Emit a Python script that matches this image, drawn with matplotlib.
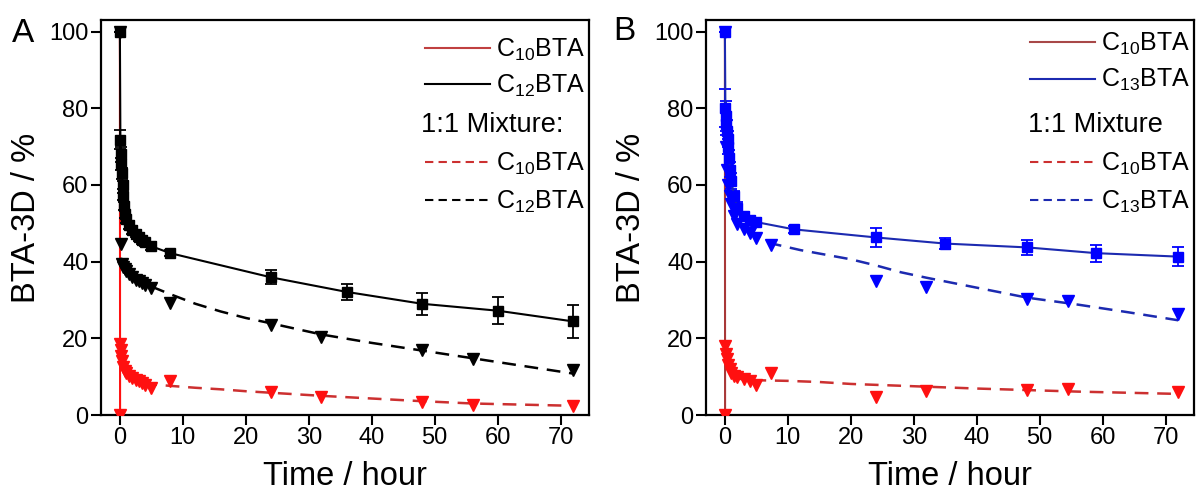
import numpy as np
import matplotlib
matplotlib.use("Agg")
import matplotlib.pyplot as plt
from matplotlib.lines import Line2D

plt.rcParams['font.family'] = ['Liberation Sans', 'DejaVu Sans']
plt.rcParams['mathtext.fontset'] = 'custom'
plt.rcParams['mathtext.rm'] = 'Liberation Sans'
plt.rcParams['mathtext.it'] = 'Liberation Sans:italic'
plt.rcParams['mathtext.bf'] = 'Liberation Sans:bold'

# ---- panel A data ----
tA_c10 = [0, 0.03]
vA_c10 = [100, 0]

tA_c12 = [0, 0.08, 0.17, 0.25, 0.33, 0.42, 0.5, 0.67, 0.83, 1.0, 1.5, 2, 2.5, 3, 3.5, 4, 5, 8, 24, 36, 48, 60, 72]
vA_c12 = [100, 71.8, 68, 65.5, 63, 60, 57, 54.5, 52.5, 51, 49.5, 48.3, 47.3, 46.5, 45.7, 45, 44, 42.2, 35.9, 32.1, 29.0, 27.2, 24.4]
eA_c12 = [0, 2.5, 2, 1.5, 1.5, 1, 1, 1, 1, 1, 1, 1, 1, 1, 1, 1, 1, 0.8, 1.8, 2.0, 2.9, 3.5, 4.4]

tA_mix12 = [0, 0.17, 0.33, 0.5, 0.75, 1.0, 1.5, 2, 2.5, 3, 3.5, 4, 5, 8, 24, 32, 48, 56, 72]
vA_mix12 = [100, 44.5, 39.3, 38.5, 38, 37.5, 36.7, 36, 35.3, 34.9, 34.3, 34, 33, 29.2, 23.5, 20.4, 17.0, 14.6, 11.7]
tA_fit12 = [0.17, 0.5, 1, 2, 3, 5, 8, 12, 16, 20, 24, 32, 40, 48, 56, 64, 72]
vA_fit12 = [41, 38.5, 37.2, 35.8, 34.8, 33.5, 31.5, 29, 27, 25.3, 23.9, 21, 18.8, 16.8, 14.8, 12.8, 10.8]

tA_mix10 = [0, 0.08, 0.17, 0.25, 0.33, 0.5, 0.75, 1, 1.5, 2, 2.5, 3, 3.5, 4, 5, 8, 24, 32, 48, 56, 72]
vA_mix10 = [0, 18.5, 17, 15.5, 14, 12.5, 11.5, 11, 10.2, 9.6, 9.2, 8.8, 8.3, 7.8, 7.0, 8.8, 5.9, 4.7, 3.4, 2.7, 2.4]
tA_fit10 = [0.08, 0.3, 0.6, 1, 2, 3, 5, 8, 12, 16, 20, 24, 32, 40, 48, 56, 64, 72]
vA_fit10 = [17, 13.5, 11.5, 10.5, 9.5, 8.8, 8.0, 7.6, 7.1, 6.7, 6.2, 5.8, 5.0, 4.3, 3.6, 3.0, 2.7, 2.4]

# ---- panel B data ----
tB_c10 = [0, 0.03]
vB_c10 = [100, 0]

tB_c13 = [0, 0.08, 0.17, 0.25, 0.33, 0.42, 0.5, 0.67, 0.83, 1, 1.5, 2, 3, 4, 5, 11, 24, 35, 48, 59, 72]
vB_c13 = [100, 80, 78, 76, 74, 72, 70, 67, 64, 61, 57, 54, 52, 50.8, 50.3, 48.4, 46.3, 44.7, 43.7, 42.2, 41.3]
eB_c13 = [0, 5, 4, 3, 3, 2, 2, 2, 2, 2, 1.5, 1.5, 1, 1, 1, 1, 2.5, 1.5, 1.9, 2.2, 2.4]

tB_mix13 = [0, 0.17, 0.33, 0.5, 0.75, 1, 1.5, 2, 3, 4, 5, 7.3, 24, 32, 48, 54.5, 72]
vB_mix13 = [100, 70, 64, 60, 57, 55, 52, 49.7, 48.5, 47.5, 46.2, 44.2, 35, 33.4, 30.2, 29.6, 26.3]
tB_fit13 = [0.5, 1, 2, 3, 5, 8, 12, 16, 20, 24, 28, 32, 40, 48, 56, 64, 72]
vB_fit13 = [58, 54, 50.5, 48.8, 47, 44.5, 43, 41.8, 40.6, 39, 37.2, 35.8, 33.2, 30.6, 28.8, 26.8, 24.7]

tB_mix10 = [0, 0.08, 0.17, 0.33, 0.5, 0.75, 1, 1.5, 2, 3, 4, 5, 7.3, 24, 32, 48, 54.5, 72]
vB_mix10 = [0, 18, 16, 14.6, 13, 12, 11, 10.2, 9.9, 9.3, 8.9, 7.8, 10.9, 4.6, 6.2, 6.6, 6.8, 5.9]
tB_fit10 = [0.08, 0.3, 0.6, 1, 2, 4, 7, 10, 15, 20, 30, 40, 48, 56, 64, 72]
vB_fit10 = [16, 13, 11.3, 10.3, 9.5, 9.1, 9.0, 8.9, 8.6, 8.1, 7.5, 6.9, 6.5, 6.1, 5.8, 5.5]

xticks = [0, 10, 20, 30, 40, 50, 60, 70]
yticks = [0, 20, 40, 60, 80, 100]

RED = '#ff1010'
RED_LINE = '#cc3030'
BLUE = '#0000ff'
BLUE_LINE = '#1c2ab0'
DASH = (5.5, 3.5)

fig = plt.figure(figsize=(11.97, 4.97), dpi=100)
W, H = 1197.0, 497.0
axA = fig.add_axes([101 / W, 1 - 415 / H, 488 / W, 395 / H])
axB = fig.add_axes([706 / W, 1 - 415 / H, 488 / W, 395 / H])


def style(ax):
    ax.set_xlim(-3, 74.5)
    ax.set_ylim(0, 103)
    ax.set_xticks(xticks)
    ax.set_yticks(yticks)
    for s in ax.spines.values():
        s.set_linewidth(1.6)
    ax.tick_params(direction='out', length=7, width=1.5, labelsize=17, pad=2)
    ax.set_xlabel('Time / hour', fontsize=23.5, labelpad=8)
    ax.set_ylabel('BTA-3D / %', fontsize=23.5, labelpad=5)


def mixture_legend(ax, h_top, l_top, h_bot, l_bot, x_text, top, title):
    leg1 = ax.legend(h_top, l_top, loc='upper right', bbox_to_anchor=(0.992, top),
                     frameon=False, fontsize=18, handlelength=2.6, handletextpad=0.25,
                     labelspacing=0.4, borderpad=0, borderaxespad=0)
    ax.add_artist(leg1)
    ax.text(x_text, 0.735, title, transform=ax.transAxes,
            fontsize=19.5, va='center', ha='left')
    ax.legend(h_bot, l_bot, loc='upper right', bbox_to_anchor=(0.992, 0.668),
              frameon=False, fontsize=18, handlelength=2.6, handletextpad=0.25,
              labelspacing=0.45, borderpad=0, borderaxespad=0)


# ---- panel A ----
axA.plot(tA_c10, vA_c10, '-', color=RED, lw=1.5, marker='s', ms=4, zorder=2)
axA.plot(tA_fit10, vA_fit10, color=RED_LINE, lw=1.8, dashes=DASH, zorder=3)
axA.plot(tA_mix10, vA_mix10, 'v', color=RED, ms=8, zorder=4)
axA.plot(tA_fit12, vA_fit12, color='black', lw=1.8, dashes=DASH, zorder=3)
axA.plot(tA_mix12, vA_mix12, 'v', color='black', ms=8, zorder=4)
axA.errorbar(tA_c12, vA_c12, yerr=eA_c12, fmt='-s', color='black', lw=1.5, ms=6.5,
             capsize=4, elinewidth=1.3, capthick=1.3, zorder=5)
style(axA)
mixture_legend(
    axA,
    [Line2D([], [], color='#c04040', lw=1.5), Line2D([], [], color='black', lw=1.5)],
    [r'C$_{10}$BTA', r'C$_{12}$BTA'],
    [Line2D([], [], color=RED_LINE, lw=1.5, dashes=(4, 2.5)),
     Line2D([], [], color='black', lw=1.5, dashes=(4, 2.5))],
    [r'C$_{10}$BTA', r'C$_{12}$BTA'],
    0.655, 0.958, '1:1 Mixture:')

# ---- panel B ----
axB.plot(tB_c10, vB_c10, '-', color='#a83838', lw=1.5, marker='s', ms=4, mfc=RED, mec=RED, zorder=2)
axB.plot(tB_fit10, vB_fit10, color=RED_LINE, lw=1.8, dashes=DASH, zorder=3)
axB.plot(tB_mix10, vB_mix10, 'v', color=RED, ms=8, zorder=4)
axB.plot(tB_fit13, vB_fit13, color=BLUE_LINE, lw=1.8, dashes=DASH, zorder=3)
axB.plot(tB_mix13, vB_mix13, 'v', color=BLUE, ms=8, zorder=4)
axB.errorbar(tB_c13, vB_c13, yerr=eB_c13, fmt='s', color=BLUE, ms=6.5,
             capsize=4, elinewidth=1.3, capthick=1.3, zorder=5)
axB.plot(tB_c13, vB_c13, '-', color=BLUE_LINE, lw=1.5, zorder=5)
style(axB)
mixture_legend(
    axB,
    [Line2D([], [], color='#a84848', lw=1.5), Line2D([], [], color=BLUE_LINE, lw=1.5)],
    [r'C$_{10}$BTA', r'C$_{13}$BTA'],
    [Line2D([], [], color=RED_LINE, lw=1.5, dashes=(4, 2.5)),
     Line2D([], [], color=BLUE_LINE, lw=1.5, dashes=(4, 2.5))],
    [r'C$_{10}$BTA', r'C$_{13}$BTA'],
    0.66, 0.972, '1:1 Mixture')

fig.text(12 / W, 1 - 42 / H, 'A', fontsize=24, va='baseline')
fig.text(613 / W, 1 - 40 / H, 'B', fontsize=24, va='baseline')

fig.savefig('out.png', dpi=100)
